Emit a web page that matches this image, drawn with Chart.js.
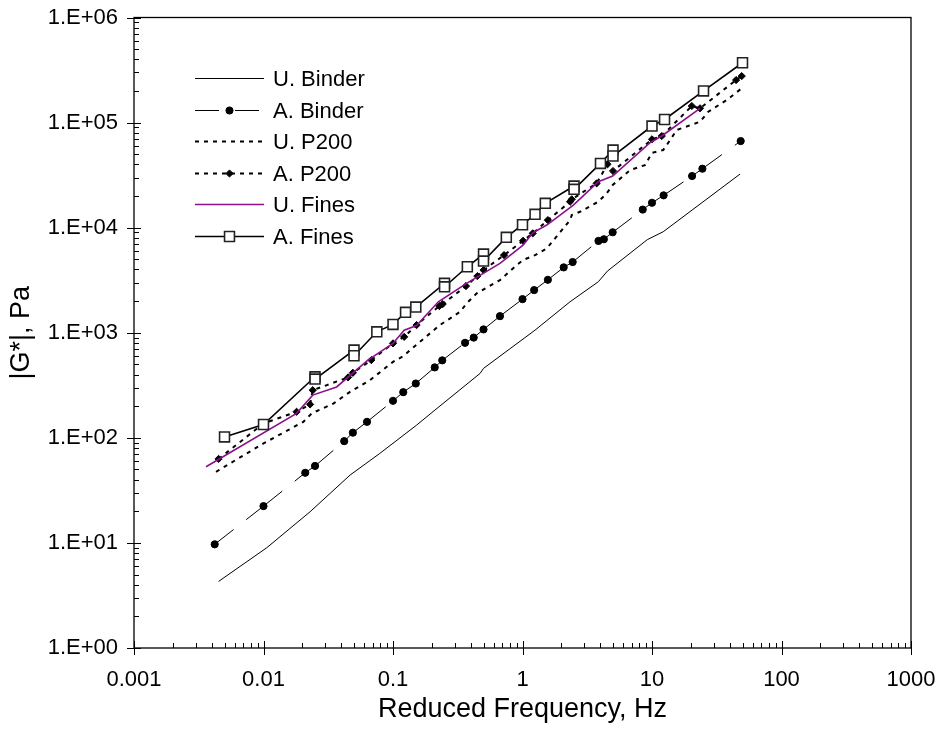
<!DOCTYPE html>
<html>
<head>
<meta charset="utf-8">
<title>|G*| vs reduced frequency</title>
<script src="https://cdn.jsdelivr.net/npm/chart.js@4.4.1/dist/chart.umd.min.js"></script>
<style>
  html, body { margin: 0; padding: 0; background: #fff; }
  #wrap { width: 941px; height: 735px; }
</style>
</head>
<body>
<div id="wrap"><canvas id="chart" width="941" height="735"></canvas></div>
<script>
// |G*| master curves - log/log, six series

const FONT = '"Liberation Sans", Arial, sans-serif';

// axis ticks
const xTickValues = [0.001, 0.01, 0.1, 1, 10, 100, 1000];
const xTickLabels = ['0.001', '0.01', '0.1', '1', '10', '100', '1000'];
const yTickValues = [1, 10, 100, 1000, 10000, 100000, 1000000];
const yTickLabels = ['1.E+00', '1.E+01', '1.E+02', '1.E+03', '1.E+04', '1.E+05', '1.E+06'];

// series names
const seriesNames = ['U. Binder', 'A. Binder', 'U. P200', 'A. P200', 'U. Fines', 'A. Fines'];

// U. Binder
const uBinderX = [0.0045, 0.0106, 0.0229, 0.0466, 0.079, 0.152, 0.211, 0.47, 0.5, 1.25, 2.33, 3.85, 4.53, 9.2, 12.2, 47.9];
const uBinderY = [4.3, 9.0, 19.8, 44.2, 71, 132, 184, 410, 458, 1059, 1972, 3057, 3864, 7690, 9140, 32400];

// A. Binder
const aBinderX = [0.0042, 0.01, 0.021, 0.025, 0.042, 0.049, 0.063, 0.1, 0.12, 0.15, 0.21, 0.24, 0.36, 0.42, 0.5, 0.67, 1, 1.23, 1.57, 2.08, 2.44, 3.86, 4.25, 4.97, 8.48, 10, 12.3, 20.4, 24.5, 48.4];
const aBinderY = [9.7, 22.4, 46.5, 54, 93, 112, 142, 225, 272, 329, 468, 546, 802, 899, 1076, 1439, 2089, 2546, 3190, 4188, 4710, 7480, 7760, 9040, 14860, 17260, 20300, 31000, 36400, 66700];

// U. P200
const uP200X = [0.0043, 0.01, 0.0203, 0.0236, 0.0346, 0.0466, 0.0664, 0.1, 0.12, 0.156, 0.23, 0.33, 0.37, 0.443, 0.67, 0.9, 1.01, 1.25, 1.54, 2.33, 2.4, 2.78, 3.85, 4.47, 4.97, 6.77, 8.83, 10, 12.2, 13.8, 15.5, 23.5, 27.2, 37.8, 49.3];
const uP200Y = [47.5, 88.5, 142, 171, 212, 274, 354, 528, 600, 792, 1183, 1583, 1901, 2371, 3170, 4400, 4920, 5480, 6350, 11800, 13180, 14160, 17650, 21200, 25450, 35300, 39400, 51600, 54800, 68200, 84900, 101900, 126800, 164000, 212000];

// A. P200
const aP200X = [0.0045, 0.01, 0.018, 0.0229, 0.024, 0.045, 0.049, 0.068, 0.1, 0.122, 0.152, 0.228, 0.242, 0.366, 0.448, 0.5, 0.72, 1.01, 1.2, 1.57, 2.33, 2.4, 3.74, 4.53, 5.0, 10, 11.9, 20.3, 23.5, 44.6, 49.3];
const aP200Y = [63, 137, 177, 208, 284, 376, 416, 549, 792, 914, 1183, 1795, 1875, 2780, 3460, 3945, 5480, 7500, 8830, 11800, 17650, 18600, 26400, 40100, 34600, 69300, 74500, 143800, 136700, 254000, 277000];

// U. Fines
const uFinesX = [0.0036, 0.018, 0.024, 0.0367, 0.064, 0.1, 0.122, 0.152, 0.224, 0.37, 0.67, 1.01, 1.2, 1.54, 2.47, 3.85, 4.97, 9.66, 11.9, 23.5];
const uFinesY = [53, 171, 255, 305, 549, 792, 1059, 1169, 1972, 2951, 4571, 6823, 8930, 10590, 16400, 27350, 31000, 64300, 74500, 136700];

// A. Fines
const aFinesX = [0.005, 0.01, 0.025, 0.025, 0.05, 0.05, 0.075, 0.1, 0.125, 0.15, 0.25, 0.25, 0.375, 0.5, 0.5, 0.75, 1, 1.25, 1.5, 2.5, 2.5, 4, 5, 5, 10, 12.5, 25, 50];
const aFinesY = [102, 134, 381, 362, 684, 604, 1021, 1200, 1563, 1754, 2951, 2738, 4246, 5610, 4810, 8090, 10660, 13400, 17030, 24900, 23150, 40900, 54800, 48060, 92700, 107000, 200000, 371000];

function pts(xs, ys) { return xs.map((x, i) => ({ x: x, y: ys[i] })); }

// Excel restarts the dash pattern at every data point: alternate the offset
// by a hair so Chart.js strokes each segment on its own
const restartDash = { borderDashOffset: c => (c.p0DataIndex % 2) * 0.001 };

const datasets = [
  { label: seriesNames[0], data: pts(uBinderX, uBinderY), borderColor: '#000', borderWidth: 1,
    pointRadius: 0 },
  { label: seriesNames[1], data: pts(aBinderX, aBinderY), borderColor: '#000', borderWidth: 1,
    borderDash: [24, 16], segment: restartDash,
    pointStyle: 'circle', pointRadius: 3.6, pointBackgroundColor: '#000', pointBorderColor: '#000', pointBorderWidth: 1 },
  { label: seriesNames[2], data: pts(uP200X, uP200Y), borderColor: '#000', borderWidth: 2,
    borderDash: [4, 5], pointRadius: 0 },
  { label: seriesNames[3], data: pts(aP200X, aP200Y), borderColor: '#000', borderWidth: 2,
    borderDash: [4, 5],
    pointStyle: 'rectRot', pointRadius: 3.6, pointBackgroundColor: '#000', pointBorderColor: '#000', pointBorderWidth: 1 },
  { label: seriesNames[4], data: pts(uFinesX, uFinesY), borderColor: '#8b108b', borderWidth: 1.6,
    pointRadius: 0 },
  { label: seriesNames[5], data: pts(aFinesX, aFinesY), borderColor: '#000', borderWidth: 1.6,
    pointStyle: 'rect', pointRadius: 7, pointBackgroundColor: '#fff', pointBorderColor: '#222', pointBorderWidth: 1.6 }
];
datasets.forEach((d, i) => {
  d.showLine = true;
  d.fill = false;
  d.tension = 0;
  d.order = datasets.length - 1 - i;   // later series on top, like Excel
  d.pointHoverRadius = d.pointRadius;
});

// frame + Excel style ticks: majors cross the axis, minors point inward
const framePlugin = {
  id: 'frame',
  afterDatasetsDraw(chart) {
    const { ctx, chartArea: a, scales: { x, y } } = chart;
    ctx.save();
    ctx.strokeStyle = '#000';
    ctx.lineWidth = 1.3;
    ctx.strokeRect(a.left, a.top, a.right - a.left, a.bottom - a.top);
    ctx.lineWidth = 1;
    ctx.beginPath();
    xTickValues.forEach((v, i) => {
      const px = Math.round(x.getPixelForValue(v)) + 0.5;
      ctx.moveTo(px, a.bottom - 7); ctx.lineTo(px, a.bottom + 7);
      if (i < xTickValues.length - 1) {
        for (let m = 2; m <= 9; m++) {
          const mx = Math.round(x.getPixelForValue(v * m)) + 0.5;
          ctx.moveTo(mx, a.bottom - 5); ctx.lineTo(mx, a.bottom);
        }
      }
    });
    yTickValues.forEach((v, i) => {
      const py = Math.round(y.getPixelForValue(v)) + 0.5;
      ctx.moveTo(a.left - 7, py); ctx.lineTo(a.left + 7, py);
      if (i < yTickValues.length - 1) {
        for (let m = 2; m <= 9; m++) {
          const my = Math.round(y.getPixelForValue(v * m)) + 0.5;
          ctx.moveTo(a.left, my); ctx.lineTo(a.left + 5, my);
        }
      }
    });
    ctx.stroke();
    ctx.restore();
  }
};

function drawMarker(ctx, style, r, x, y) {
  if (style === 'circle') { ctx.arc(x, y, r, 0, Math.PI * 2); }
  else if (style === 'rect') { const s = r * Math.SQRT1_2; ctx.rect(x - s, y - s, 2 * s, 2 * s); }
  else if (style === 'rectRot') { ctx.moveTo(x, y - r); ctx.lineTo(x + r, y); ctx.lineTo(x, y + r); ctx.lineTo(x - r, y); ctx.closePath(); }
}

// legend drawn inside the plot, upper left
const legendPlugin = {
  id: 'innerLegend',
  afterDraw(chart) {
    const ctx = chart.ctx;
    const x0 = 195, x1 = 264, textX = 273, top = 78, step = 31.5;
    ctx.save();
    ctx.font = '22px ' + FONT;
    ctx.textBaseline = 'middle';
    ctx.textAlign = 'left';
    chart.data.datasets.forEach((d, i) => {
      const yy = Math.round(top + i * step) + 0.5;
      ctx.strokeStyle = d.borderColor;
      ctx.lineWidth = d.borderWidth;
      ctx.setLineDash(d.borderDash || []);
      ctx.lineDashOffset = 0;
      ctx.beginPath();
      ctx.moveTo(x0, yy); ctx.lineTo(x1, yy);
      ctx.stroke();
      ctx.setLineDash([]);
      if (d.pointRadius > 0) {
        ctx.fillStyle = d.pointBackgroundColor;
        ctx.strokeStyle = d.pointBorderColor;
        ctx.lineWidth = d.pointBorderWidth;
        ctx.beginPath();
        drawMarker(ctx, d.pointStyle, d.pointRadius, (x0 + x1) / 2, yy);
        ctx.fill(); ctx.stroke();
      }
      ctx.fillStyle = '#000';
      ctx.fillText(d.label, textX, yy + 1);
    });
    ctx.restore();
  }
};

function build() {
  const ctx = document.getElementById('chart').getContext('2d');
  new Chart(ctx, {
    type: 'scatter',
    data: { datasets: datasets },
    plugins: [framePlugin, legendPlugin],
    options: {
      responsive: false, animation: false, events: [],
      layout: { padding: { left: 0, right: 30, top: 17.5, bottom: 0 } },
      plugins: { legend: { display: false }, tooltip: { enabled: false } },
      scales: {
        x: {
          type: 'logarithmic', min: 0.001, max: 1000, position: 'bottom',
          afterBuildTicks: s => { s.ticks = xTickValues.map(v => ({ value: v, major: true })); },
          afterFit: s => { s.height = 87; },
          // tick marks are drawn by the frame plugin; tickLength only spaces the labels
          grid: { display: false, drawTicks: true, tickLength: 18 }, border: { display: false },
          ticks: {
            color: '#000', font: { family: FONT, size: 22 }, padding: 1,
            maxRotation: 0, autoSkip: false,
            callback: v => xTickLabels[xTickValues.indexOf(v)] ?? ''
          },
          title: { display: true, text: 'Reduced Frequency, Hz', color: '#000',
                   font: { family: FONT, size: 27 }, padding: { top: 0, bottom: 9 } }
        },
        y: {
          type: 'logarithmic', min: 1, max: 1000000, position: 'left',
          afterBuildTicks: s => { s.ticks = yTickValues.map(v => ({ value: v, major: true })); },
          afterFit: s => { s.width = 134; },
          grid: { display: false, drawTicks: true, tickLength: 15 }, border: { display: false },
          ticks: {
            color: '#000', font: { family: FONT, size: 22 }, padding: 1, autoSkip: false,
            callback: v => yTickLabels[yTickValues.indexOf(v)] ?? ''
          },
          title: { display: true, text: '|G*|, Pa', color: '#000',
                   font: { family: FONT, size: 27 }, padding: { top: 5, bottom: 0 } }
        }
      }
    }
  });
}
build();
</script>
</body>
</html>
